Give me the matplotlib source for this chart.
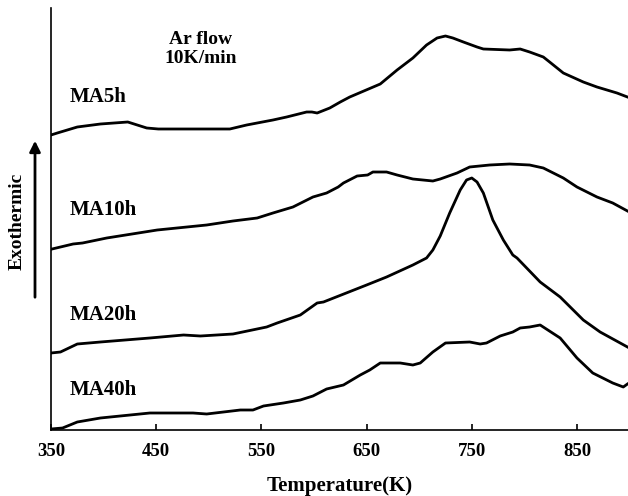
import numpy as np
import matplotlib
matplotlib.use("Agg")
import matplotlib.pyplot as plt

plt.rcParams['font.family'] = ['Liberation Serif', 'DejaVu Serif']
plt.rcParams['font.weight'] = 'bold'

# DSC traces (temperature in K, signal in arbitrary units)
t_5h = [350, 356, 375, 397, 423, 441, 452, 489, 520, 536, 561, 574, 593, 598, 603, 615, 625, 634,
        663, 679, 694, 707, 717, 725, 732, 742, 755, 761, 786, 796, 805, 818, 824, 837, 856, 869, 888, 898]
s_5h = [295, 297, 303, 306, 308, 302, 301, 301, 301, 305, 310, 313, 318, 318, 317, 322, 328, 333,
        346, 360, 372, 385, 392, 394, 392, 388, 383, 381, 380, 381, 378, 373, 368, 357, 348, 343, 337, 333]

t_10h = [351, 359, 371, 380, 403, 451, 498, 523, 546, 561, 580, 599, 612, 623, 628, 641, 651, 656,
         669, 679, 694, 713, 720, 736, 748, 767, 786, 805, 818, 837, 850, 869, 884, 898]
s_10h = [181, 183, 186, 187, 192, 200, 205, 209, 212, 217, 223, 233, 237, 243, 247, 254, 255, 258,
         258, 255, 251, 249, 251, 257, 263, 265, 266, 265, 262, 252, 243, 233, 227, 219]

t_20h = [350, 359, 375, 397, 444, 476, 492, 523, 555, 565, 587, 603, 609, 650, 669, 694, 707, 713,
         720, 729, 739, 745, 750, 755, 761, 770, 780, 789, 793, 815, 834, 856, 872, 898]
s_20h = [77, 78, 86, 88, 92, 95, 94, 96, 103, 107, 115, 127, 128, 145, 153, 165, 172, 180,
         194, 217, 240, 250, 252, 248, 237, 210, 190, 175, 172, 148, 133, 110, 98, 83]

t_40h = [350, 361, 375, 397, 444, 485, 498, 530, 542, 552, 571, 587, 599, 612, 628, 644, 653, 663,
         682, 694, 701, 713, 725, 748, 758, 764, 777, 789, 796, 805, 815, 834, 850, 865, 884, 894, 898]
s_40h = [1, 2, 8, 12, 17, 17, 16, 20, 20, 24, 27, 30, 34, 41, 45, 55, 60, 67,
         67, 65, 67, 78, 87, 88, 86, 87, 94, 98, 102, 103, 105, 92, 72, 57, 47, 43, 46]

labels = ['MA5h', 'MA10h', 'MA20h', 'MA40h']
label_y = [333, 220, 115, 40]
xticks = [350, 450, 550, 650, 750, 850]

fig = plt.figure(figsize=(6.28, 4.96), dpi=100)
ax = fig.add_axes([51/628, 66/496, 577/628, 422/496])

for t, s in [(t_5h, s_5h), (t_10h, s_10h), (t_20h, s_20h), (t_40h, s_40h)]:
    ax.plot(t, s, color='black', lw=2.0, solid_joinstyle='round')

for lab, y in zip(labels, label_y):
    ax.text(368, y, lab, fontsize=15, fontweight='bold', ha='left', va='center')

ax.text(492, 381, 'Ar flow\n10K/min', fontsize=14, fontweight='bold', ha='center', va='center',
        linespacing=1.2)

ax.set_xlim(350, 898.5)
ax.set_ylim(0, 422)
ax.set_xticks(xticks)
ax.set_yticks([])
ax.tick_params(axis='x', direction='in', length=4, width=1.2, labelsize=13.5, pad=9)
for lbl in ax.get_xticklabels():
    lbl.set_fontweight('bold')
ax.spines['top'].set_visible(False)
ax.spines['right'].set_visible(False)
ax.spines['left'].set_linewidth(1.2)
ax.spines['bottom'].set_linewidth(1.2)

ax.set_xlabel('Temperature(K)', fontsize=15, fontweight='bold', labelpad=12)

# arrow + label on the left side
ax.annotate('', xy=(35/628, 1 - 138/496), xytext=(35/628, 1 - 300/496),
            xycoords='figure fraction', textcoords='figure fraction',
            arrowprops=dict(arrowstyle='-|>', lw=2, color='black', mutation_scale=16))
fig.text(17/628, 1 - 221/496, 'Exothermic', rotation=90, fontsize=14, fontweight='bold',
         ha='center', va='center')

fig.savefig('out.png', dpi=100)
